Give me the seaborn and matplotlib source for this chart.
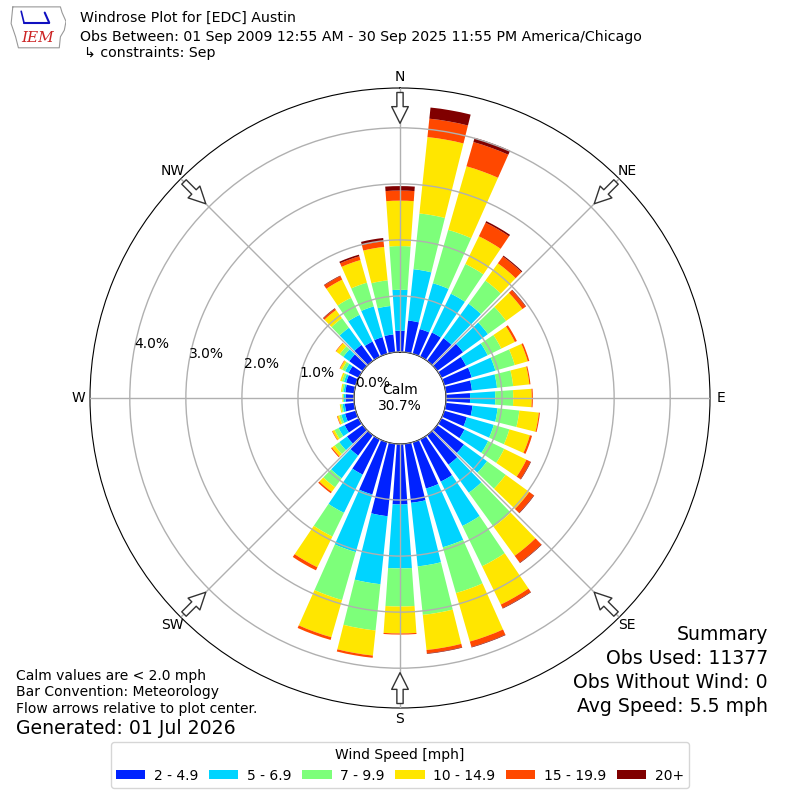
import numpy as np
import pandas as pd
import matplotlib
matplotlib.use("Agg")
import matplotlib.pyplot as plt
import seaborn as sns

# wind direction bins (degrees, meteorological) and speed bins
directions = np.arange(0, 360, 10)
speed_bins = ["2 - 4.9", "5 - 6.9", "7 - 9.9", "10 - 14.9", "15 - 19.9", "20+"]
bin_colors = ["#0022ff", "#00d4ff", "#7dff7a", "#ffe600", "#ff4800", "#800000"]

# percent of observations per direction, one list per speed bin
spd_2_5 = [0.38, 0.57, 0.46, 0.48, 0.50, 0.57, 0.49, 0.51, 0.47, 0.43, 0.48, 0.42,
           0.46, 0.59, 0.65, 0.84, 0.86, 1.06, 1.08, 1.30, 0.97, 0.70, 0.45, 0.35,
           0.28, 0.20, 0.17, 0.15, 0.16, 0.18, 0.20, 0.30, 0.35, 0.30, 0.31, 0.32]
spd_5_7 = [0.73, 0.92, 0.85, 0.77, 0.76, 0.55, 0.43, 0.44, 0.45, 0.45, 0.45, 0.50,
           0.47, 0.51, 0.62, 0.88, 1.09, 1.14, 1.14, 1.22, 1.07, 0.76, 0.50, 0.17,
           0.12, 0.07, 0.04, 0.03, 0.03, 0.04, 0.07, 0.13, 0.38, 0.53, 0.57, 0.51]
spd_7_10 = [0.78, 1.00, 0.99, 0.59, 0.51, 0.40, 0.27, 0.36, 0.29, 0.32, 0.39, 0.29,
            0.32, 0.41, 0.75, 0.80, 0.85, 0.87, 0.68, 0.83, 0.89, 0.47, 0.20, 0.10,
            0.08, 0.04, 0.03, 0.02, 0.03, 0.04, 0.06, 0.08, 0.21, 0.34, 0.44, 0.46]
spd_10_15 = [0.81, 1.37, 1.18, 0.55, 0.38, 0.36, 0.27, 0.24, 0.29, 0.33, 0.35, 0.38,
             0.44, 0.52, 0.64, 0.76, 0.90, 0.63, 0.48, 0.45, 0.69, 0.61, 0.10, 0.06,
             0.04, 0.03, 0.02, 0.01, 0.02, 0.03, 0.04, 0.08, 0.18, 0.36, 0.42, 0.60]
spd_15_20 = [0.18, 0.33, 0.45, 0.27, 0.15, 0.07, 0.04, 0.03, 0.02, 0.02, 0.02, 0.04,
             0.08, 0.10, 0.15, 0.07, 0.10, 0.06, 0.02, 0.04, 0.05, 0.06, 0.03, 0.02,
             0.01, 0.01, 0.00, 0.00, 0.00, 0.00, 0.01, 0.01, 0.03, 0.07, 0.07, 0.10]
spd_20p = [0.08, 0.20, 0.08, 0.03, 0.02, 0.01, 0.00, 0.00, 0.00, 0.00, 0.00, 0.00,
           0.01, 0.01, 0.01, 0.01, 0.01, 0.01, 0.00, 0.00, 0.00, 0.00, 0.00, 0.00,
           0.00, 0.00, 0.00, 0.00, 0.00, 0.00, 0.00, 0.00, 0.01, 0.01, 0.03, 0.06]

calm_pct = 30.7
ring_ticks = [0, 1, 2, 3, 4]
compass = ["N", "NE", "E", "SE", "S", "SW", "W", "NW"]
compass_deg = [0, 45, 90, 135, 180, 225, 270, 315]

df = pd.DataFrame({"dir": directions, speed_bins[0]: spd_2_5, speed_bins[1]: spd_5_7,
                   speed_bins[2]: spd_7_10, speed_bins[3]: spd_10_15,
                   speed_bins[4]: spd_15_20, speed_bins[5]: spd_20p})

sns.set_style("white")
plt.rcParams["font.family"] = ["DejaVu Sans"]
plt.rcParams["text.color"] = "black"

fig = plt.figure(figsize=(8, 8), dpi=100)
ax = fig.add_axes([0.1125, 0.115, 0.775, 0.775], projection="polar")
ax.set_theta_zero_location("N")
ax.set_theta_direction(-1)
ax.set_rorigin(-0.82)
ax.set_ylim(0, 4.71)

# stacked wedges
theta = np.deg2rad(df["dir"].to_numpy())
bottom = np.zeros(len(df))
for label, color in zip(speed_bins, bin_colors):
    vals = df[label].to_numpy()
    ax.bar(theta, vals, width=np.deg2rad(8), bottom=bottom, color=color,
           label=label, linewidth=0, zorder=1)
    bottom += vals

# grid on top of bars
ax.set_axisbelow(False)
ax.set_rgrids(ring_ticks, labels=[""] * len(ring_ticks))
ax.set_thetagrids(compass_deg, labels=[""] * len(compass_deg))
ax.grid(True, color="#b0b0b0", linewidth=1)
ax.spines["polar"].set_color("black")
ax.spines["inner"].set_color("black")

for r in ring_ticks:
    ax.text(np.deg2rad(280), r, f"{r:.1f}%", ha="left", va="bottom", fontsize=10)

for name, deg in zip(compass, compass_deg):
    th = np.deg2rad(deg)
    ax.text(th, 4.915, name, ha="center", va="center", fontsize=10)
    ax.annotate("", xy=(th, 4.08), xytext=(th, 4.63),
                arrowprops=dict(arrowstyle="simple,head_width=1.2,head_length=1.2,tail_width=0.45",
                                fc="white", ec="#333333", lw=1, shrinkA=0, shrinkB=0))

ax.text(0.5, 0.5, f"Calm\n{calm_pct:.1f}%", transform=ax.transAxes,
        ha="center", va="center", fontsize=10, linespacing=1.2)

# header
fig.text(0.1, 1 - 18 / 800, "Windrose Plot for [EDC] Austin", fontsize=10.2, va="center")
fig.text(0.1, 1 - 37 / 800,
         "Obs Between: 01 Sep 2009 12:55 AM - 30 Sep 2025 11:55 PM America/Chicago",
         fontsize=10.2, va="center")
fig.text(0.105, 1 - 53 / 800, "\u21b3 constraints: Sep", fontsize=10.2, va="center")

# rough IEM logo
logo = fig.add_axes([10 / 800, 1 - 50 / 800, 56 / 800, 44 / 800])
logo.axis("off")
logo.set_xlim(0, 1)
logo.set_ylim(0, 1)
ox = [0.05, 0.9, 0.93, 1.0, 0.97, 0.9, 0.88, 0.15, 0.1, 0.02, 0.05]
oy = [0.98, 0.98, 0.85, 0.65, 0.45, 0.3, 0.05, 0.05, 0.3, 0.6, 0.98]
logo.plot(ox, oy, color="#999999", lw=0.8)
logo.plot([0.25, 0.7], [0.62, 0.62], color="#1010c0", lw=1.5)
logo.plot([0.7, 0.62], [0.62, 0.85], color="#1010c0", lw=1.5)
logo.plot([0.25, 0.2], [0.62, 0.88], color="#1010c0", lw=1.2)
logo.text(0.5, 0.28, "IEM", color="#cc2222", fontsize=11, family="DejaVu Serif",
          style="italic", ha="center", va="center")

# footer notes
fig.text(0.02, 1 - 676 / 800, "Calm values are < 2.0 mph", fontsize=10, va="center")
fig.text(0.02, 1 - 692 / 800, "Bar Convention: Meteorology", fontsize=10, va="center")
fig.text(0.02, 1 - 709 / 800, "Flow arrows relative to plot center.", fontsize=10, va="center")
fig.text(0.02, 1 - 728 / 800, "Generated: 01 Jul 2026", fontsize=13.6, va="center")

summary = ["Summary", "Obs Used: 11377", "Obs Without Wind: 0", "Avg Speed: 5.5 mph"]
for i, line in enumerate(summary):
    fig.text(0.96, 1 - (635 + 23.7 * i) / 800, line, fontsize=13.6, ha="right", va="center")

handles, labels = ax.get_legend_handles_labels()
fig.legend(handles, labels, loc="lower center", bbox_to_anchor=(0.5, 0.006), ncol=6,
           title="Wind Speed [mph]", fontsize=10, title_fontsize=10, frameon=True,
           edgecolor="#cccccc", handlelength=2.1, handleheight=0.6, handletextpad=0.6,
           columnspacing=0.8)

fig.savefig("out.png", dpi=100)
